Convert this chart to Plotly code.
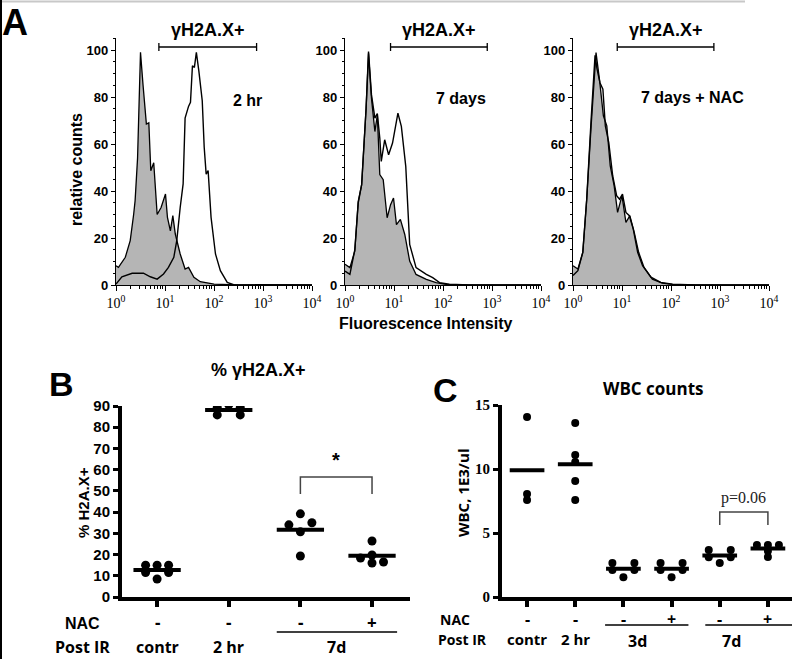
import math
import plotly.graph_objects as go

W, H = 800, 659

# ---------------- A: flow histograms (x = log10 fluorescence, y = relative counts)
ctl_a1_log = [0, 0.05, 0.19, 0.29, 0.36, 0.39, 0.44, 0.48, 0.50, 0.55, 0.62, 0.67, 0.71, 0.77, 0.84,
              0.92, 1.01, 1.05, 1.11, 1.16, 1.21, 1.31, 1.41, 1.48, 1.59, 1.72, 2.0, 2.5, 4.0]
ctl_a1_cnt = [8.2, 7.5, 11.8, 18.9, 30, 35.9, 54, 78, 99, 85.5, 68.5, 69, 48.6, 52, 30,
              33, 38.7, 28.8, 23, 29.5, 21.7, 13.2, 6.8, 7.5, 3.3, 1.4, 0.4, 0, 0]
irr_a1_log = [0, 0.12, 0.33, 0.56, 0.70, 0.84, 0.97, 1.07, 1.18, 1.24, 1.31, 1.37, 1.41, 1.48, 1.52,
              1.56, 1.60, 1.64, 1.69, 1.76, 1.80, 1.84, 1.88, 1.94, 2.03, 2.13, 2.27, 2.40, 4.0]
irr_a1_cnt = [0.4, 3.5, 5, 5, 3.5, 2.5, 4.7, 7.5, 11.8, 18.9, 33, 43, 71, 76, 77.7,
              93.3, 92.6, 99, 91.2, 78.4, 58.6, 47.2, 48.7, 28.8, 13.2, 6.1, 1.1, 0.1, 0]

ctl_a2_log = [0, 0.10, 0.20, 0.27, 0.34, 0.43, 0.48, 0.54, 0.61, 0.66, 0.71, 0.78, 0.86, 0.93, 0.99,
              1.05, 1.13, 1.22, 1.32, 1.45, 1.66, 1.86, 2.06, 2.53, 4.0]
ctl_a2_cnt = [8.8, 7.4, 14.4, 35.6, 42.7, 75, 98.6, 79.5, 65.3, 72.4, 47, 44.8, 28.6, 34.2, 37,
              25.7, 27.9, 21.5, 10.2, 4.5, 2.4, 1.0, 0.3, 0, 0]
irr_a2_log = [0, 0.10, 0.20, 0.27, 0.34, 0.43, 0.48, 0.54, 0.61, 0.66, 0.71, 0.74, 0.81, 0.89, 0.97,
              1.08, 1.15, 1.24, 1.32, 1.45, 1.66, 1.79, 1.93, 2.13, 2.53, 4.0]
irr_a2_cnt = [5.9, 4.5, 15, 35, 42.7, 75, 99.3, 81, 71, 73, 62.5, 52.6, 61.8, 55.4, 60.4,
              73.1, 67.5, 50.5, 17.3, 7.4, 4.5, 3.1, 1.0, 0.3, 0, 0]

ctl_a3_log = [0, 0.10, 0.20, 0.28, 0.37, 0.44, 0.47, 0.54, 0.62, 0.69, 0.76, 0.84, 0.91, 1.0, 1.08,
              1.16, 1.25, 1.34, 1.45, 1.62, 1.82, 2.03, 2.5, 4.0]
ctl_a3_cnt = [8.2, 6.8, 13.9, 36.5, 67.7, 93.2, 98.9, 87.5, 72, 67.7, 50.7, 42.2, 30.9, 38, 26.6,
              29.5, 22.4, 13.9, 7.5, 2.5, 0.8, 0.3, 0, 0]
nac_a3_log = [0, 0.10, 0.20, 0.28, 0.37, 0.45, 0.49, 0.55, 0.61, 0.66, 0.73, 0.81, 0.89, 0.95, 1.01,
              1.08, 1.15, 1.23, 1.32, 1.42, 1.59, 1.79, 2.03, 2.5, 4.0]
nac_a3_cnt = [4, 6.1, 13.9, 36.5, 70.5, 97.7, 92, 86.1, 83.3, 67.7, 60.6, 46.5, 38, 36.5, 38.7,
              30.9, 29.5, 23.8, 13.9, 8.2, 3.3, 1.1, 0.3, 0, 0]

a_labels = ["2 hr", "7 days", "7 days + NAC"]
a_gate = [[7.5, 740], [8.5, 800], [8, 750]]
a_ticks = [1, 10, 100, 1000, 10000]
a_ticktext = ["10<sup>0</sup>", "10<sup>1</sup>", "10<sup>2</sup>", "10<sup>3</sup>", "10<sup>4</sup>"]

# ---------------- B: % gH2A.X+
b_nac = ["-", "-", "-", "+"]
b_groups = ["contr", "2 hr", "7d"]
b_vals = [
    [15, 15, 15, 11.5, 11.5, 8.5],
    [89.2, 90.6, 85.8, 89.2, 85.8],
    [39.2, 34.0, 35.0, 30.7, 19.3],
    [26.4, 18.4, 16.0, 19.8, 16.5],
]

# ---------------- C: WBC counts
c_nac = ["-", "-", "-", "+", "-", "+"]
c_groups = ["contr", "2 hr", "3d", "7d"]
c_vals = [
    [14.06, 7.58, 8.05],
    [13.6, 11.1, 10.55, 9.06, 7.58],
    [2.65, 2.65, 2.1, 2.1, 1.55],
    [2.65, 2.65, 2.1, 2.1, 1.55],
    [3.67, 3.67, 3.1, 3.1, 2.65],
    [4.06, 4.06, 4.06, 3.6, 3.13],
]


def px(x):
    return x / W


def py(y):
    return 1 - y / H


BOLD = dict(family="Liberation Sans", color="black", weight="bold")
MYR = dict(family="Open Sans", color="black", weight="bold")

fig = go.Figure()
ann = []
shapes = []


def note(text, x, y, size, font=BOLD, xanchor="center", **kw):
    # text placed in figure pixels
    ann.append(dict(text=text, xref="paper", yref="paper", x=px(x), y=py(y), showarrow=False,
                    xanchor=xanchor, yanchor="middle", font=dict(font, size=size), **kw))


def axnote(text, xa, x, y, size, font=MYR):
    ann.append(dict(text=text, xref=xa, yref="paper", x=x, y=py(y), showarrow=False,
                    xanchor="center", yanchor="middle", font=dict(font, size=size)))


# ---- panel A
a_xdom = [(116, 312), (345, 541), (573, 769)]
a_ytop, a_ybot = 38, 285
a_yrange = [0, (a_ybot - a_ytop) / 2.35]
hist = [(ctl_a1_log, ctl_a1_cnt, irr_a1_log, irr_a1_cnt),
        (ctl_a2_log, ctl_a2_cnt, irr_a2_log, irr_a2_cnt),
        (ctl_a3_log, ctl_a3_cnt, nac_a3_log, nac_a3_cnt)]
lay = {}
for i, (cl, cc, tl, tc) in enumerate(hist):
    n = i + 1
    xa, ya = ("x%d" % n if n > 1 else "x"), ("y%d" % n if n > 1 else "y")
    fig.add_trace(go.Scatter(x=[10 ** v for v in cl], y=cc, mode="lines", fill="tozeroy",
                             fillcolor="#b5b5b5", line=dict(color="black", width=1.3),
                             xaxis=xa, yaxis=ya, hoverinfo="skip"))
    fig.add_trace(go.Scatter(x=[10 ** v for v in tl], y=tc, mode="lines",
                             line=dict(color="black", width=1.4),
                             xaxis=xa, yaxis=ya, hoverinfo="skip"))
    d0, d1 = a_xdom[i]
    lay["xaxis%d" % n if n > 1 else "xaxis"] = dict(
        type="log", range=[0, 4], domain=[px(d0), px(d1)], anchor=ya,
        showline=True, linecolor="black", linewidth=1.2, showgrid=False, zeroline=False,
        ticks="outside", ticklen=5, tickwidth=1.2, tickcolor="black",
        tickvals=a_ticks, ticktext=a_ticktext,
        tickfont=dict(family="Liberation Sans Narrow", size=14, color="black"),
        minor=dict(ticks="outside", ticklen=3, tickcolor="black", dtick="D1", showgrid=False))
    lay["yaxis%d" % n if n > 1 else "yaxis"] = dict(
        range=a_yrange, domain=[py(a_ybot), py(a_ytop)], anchor=xa,
        showline=True, linecolor="black", linewidth=1.2, showgrid=False, zeroline=False,
        ticks="outside", ticklen=4, tickwidth=1.2, tickcolor="black",
        tickvals=[0, 20, 40, 60, 80, 100], tickfont=dict(BOLD, size=13),
        minor=dict(ticks="outside", ticklen=2, tickcolor="black", dtick=5, showgrid=False))
    g0, g1 = a_gate[i]
    gy = (a_ybot - 47) / 2.35
    shapes.append(dict(type="line", xref=xa, yref=ya, x0=g0, x1=g1,
                       y0=gy, y1=gy, line=dict(color="black", width=1.3)))
    for g in (g0, g1):
        shapes.append(dict(type="line", xref=xa, yref=ya, x0=g, x1=g,
                           y0=gy - 1.7, y1=gy + 1.7, line=dict(color="black", width=1.3)))
    axnote("γH2A.X+", xa, math.log10(math.sqrt(g0 * g1)), 30, 18, font=BOLD)
note(a_labels[0], 247, 100, 16)
note(a_labels[1], 461, 98, 16)
note(a_labels[2], 692, 97, 16)
note("relative counts", 77, 170, 16, textangle=-90)
note("Fluorescence Intensity", 425, 323, 16)
note("A", 15, 23, 36)


# ---- dot plots (B, C)
def swarm(vals, ypu, rowh=7):
    rows = [math.floor(v * ypu / rowh) for v in vals]
    offs = []
    seen = {}
    for r in rows:
        n = rows.count(r)
        k = seen.get(r, 0)
        seen[r] = k + 1
        if n == 1:
            offs.append(0)
        elif n == 2:
            offs.append(-1 if k == 0 else 1)
        else:
            offs.append(k - (n - 1) / 2)
    return offs


def dotpanel(n, vals, xdom, ydom, yrange, xrange, step_px, msize, halfw):
    xa, ya = "x%d" % n, "y%d" % n
    xpu = (xdom[1] - xdom[0]) / (xrange[1] - xrange[0])
    ypu = (ydom[0] - ydom[1]) / (yrange[1] - yrange[0])
    for i, v in enumerate(vals):
        offs = swarm(v, ypu)
        fig.add_trace(go.Scatter(x=[i + o * step_px / xpu for o in offs], y=v, mode="markers",
                                 marker=dict(color="black", size=msize), xaxis=xa, yaxis=ya,
                                 hoverinfo="skip"))
        m = sum(v) / len(v)
        fig.add_trace(go.Scatter(x=[i - halfw, i + halfw], y=[m, m], mode="lines",
                                 line=dict(color="black", width=4), xaxis=xa, yaxis=ya,
                                 hoverinfo="skip"))
    return xa, ya, xpu, ypu


# B
b_xdom, b_ydom = (122, 410), (597, 406)
b_xr, b_yr = [-0.49, 3.53], [0, 90]
xa, ya, bxpu, bypu = dotpanel(4, b_vals, b_xdom, b_ydom, b_yr, b_xr, 11.5, 9, 0.33)
lay["xaxis4"] = dict(domain=[px(b_xdom[0]), px(b_xdom[1])], range=b_xr, anchor="y4",
                     showline=True, linecolor="black", linewidth=4, showgrid=False, zeroline=False,
                     ticks="outside", ticklen=6, tickwidth=4, tickcolor="black",
                     tickvals=[0, 1, 2, 3], showticklabels=False)
lay["yaxis4"] = dict(domain=[py(b_ydom[0]), py(b_ydom[1])], range=b_yr, anchor="x4",
                     showline=True, linecolor="black", linewidth=4, showgrid=False, zeroline=False,
                     ticks="outside", ticklen=5, tickwidth=3, tickcolor="black", dtick=10,
                     tickfont=dict(BOLD, size=15))
# significance bracket
by0, by1 = (597 - 494) / bypu, (597 - 477) / bypu
shapes.append(dict(type="path", xref="x4", yref="y4",
                   path="M 2 %f L 2 %f L 3 %f L 3 %f" % (by0, by1, by1, by0),
                   line=dict(color="#444", width=1.5)))
axnote("*", "x4", 2.5, 460, 20, font=BOLD)
note("% γH2A.X+", 258, 370, 18)
note("% H2A.X+", 83, 503, 15, textangle=-90)
note("B", 61, 384, 34)
note("NAC", 102, 623, 16, xanchor="right")
note("Post IR", 112, 647, 16, font=MYR, xanchor="right")
for i, s in enumerate(b_nac):
    axnote(s, "x4", i, 622, 17)
for i, g in enumerate(b_groups[:2]):
    axnote(g, "x4", i, 647, 16)
axnote(b_groups[2], "x4", 2.5, 647, 16)
shapes.append(dict(type="line", xref="x4", yref="paper", x0=1.67, x1=3.35, y0=py(632), y1=py(632),
                   line=dict(color="black", width=1.3)))

# C
c_xdom, c_ydom = (502, 792), (597, 405)
c_xr, c_yr = [-0.52, 5.5], [0, 15]
xa, ya, cxpu, cypu = dotpanel(5, c_vals, c_xdom, c_ydom, c_yr, c_xr, 11, 8, 0.36)
lay["xaxis5"] = dict(domain=[px(c_xdom[0]), px(c_xdom[1])], range=c_xr, anchor="y5",
                     showline=True, linecolor="black", linewidth=4, showgrid=False, zeroline=False,
                     ticks="outside", ticklen=6, tickwidth=4, tickcolor="black",
                     tickvals=list(range(6)), showticklabels=False)
lay["yaxis5"] = dict(domain=[py(c_ydom[0]), py(c_ydom[1])], range=c_yr, anchor="x5",
                     showline=True, linecolor="black", linewidth=4, showgrid=False, zeroline=False,
                     ticks="outside", ticklen=5, tickwidth=3, tickcolor="black", dtick=5,
                     tickfont=dict(family="Liberation Sans Narrow", color="black", weight="bold", size=15))
cy0, cy1 = (597 - 525) / cypu, (597 - 512) / cypu
shapes.append(dict(type="path", xref="x5", yref="y5",
                   path="M 4 %f L 4 %f L 5 %f L 5 %f" % (cy0, cy1, cy1, cy0),
                   line=dict(color="#444", width=1.5)))
axnote("p=0.06", "x5", 4.5, 498, 16, font=dict(family="Liberation Sans Narrow", color="#222"))
note("WBC counts", 653, 388, 17, font=MYR)
note("WBC, 1E3/ul", 463, 493, 15, font=MYR, textangle=-90)
note("C", 445, 390, 34)
note("NAC", 455, 619, 14, font=MYR)
note("Post IR", 462, 639, 14, font=MYR)
for i, s in enumerate(c_nac):
    axnote(s, "x5", i, 619, 16)
for i, g in enumerate(c_groups[:2]):
    axnote(g, "x5", i, 639, 15)
axnote(c_groups[2], "x5", 2.3, 641, 16)
axnote(c_groups[3], "x5", 4.25, 641, 16)
for a, b in ((1.62, 3.35), (3.7, 5.5)):
    shapes.append(dict(type="line", xref="x5", yref="paper", x0=a, x1=b, y0=py(625), y1=py(625),
                       line=dict(color="black", width=1.3)))

# frame bits of the original figure crop
shapes.append(dict(type="line", xref="paper", yref="paper", x0=0, x1=px(745), y0=py(1.5), y1=py(1.5),
                   line=dict(color="#c8c8c8", width=2)))
shapes.append(dict(type="line", xref="paper", yref="paper", x0=px(1), x1=px(1), y0=0, y1=1,
                   line=dict(color="black", width=2)))

fig.update_layout(width=W, height=H, margin=dict(l=0, r=0, t=0, b=0, autoexpand=False),
                  showlegend=False, paper_bgcolor="white", plot_bgcolor="white",
                  annotations=ann, shapes=shapes, **lay)
# page has default body margin; drop it so the figure fills the window
fig.write_html("out.html", config={"displayModeBar": False},
               post_script="document.body.style.margin='0';")
